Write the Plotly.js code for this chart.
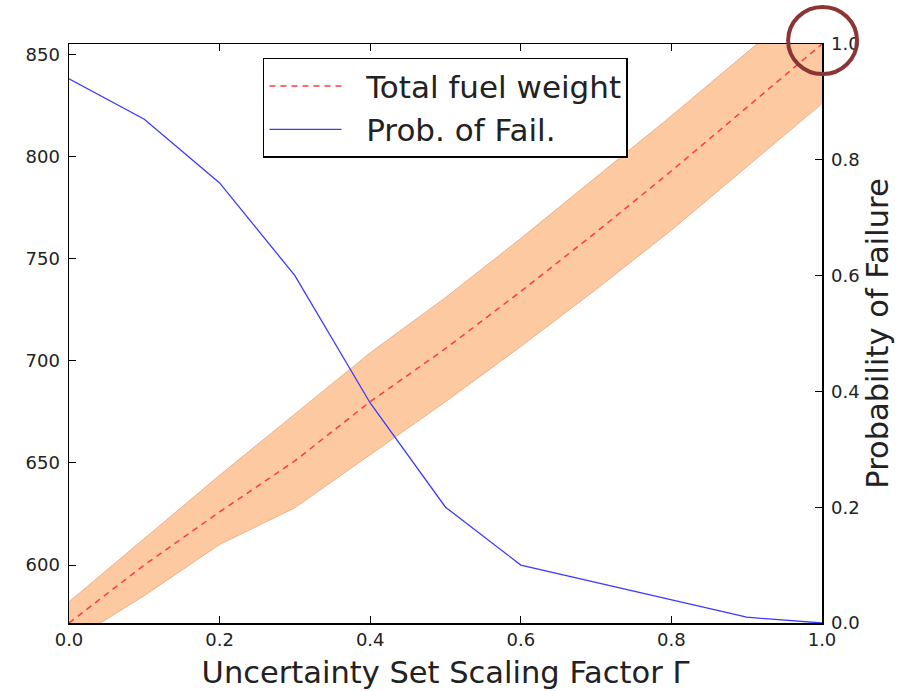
<!DOCTYPE html>
<html>
<head>
<meta charset="utf-8">
<script src="https://cdn.plot.ly/plotly-3.0.1.min.js"></script>
<style>html,body{margin:0;padding:0;background:#fff;}#chart{width:907px;height:691px;}</style>
</head>
<body>
<div id="chart"></div>
<script>
// Data
const gamma = [0.0, 0.1, 0.2, 0.3, 0.4, 0.5, 0.6, 0.7, 0.8, 0.9, 1.0];
const fuelWeight = [571.6, 600, 626, 651, 680, 706, 734, 763, 793, 824, 855.2];
const fuelLower = [562, 585, 610, 628, 654, 680, 707, 735, 764, 795, 826];
const fuelUpper = [582, 613, 644, 674, 704, 731, 760, 790, 820, 851, 882];
const probFail = [0.94, 0.87, 0.76, 0.60, 0.38, 0.20, 0.10, 0.07, 0.04, 0.01, 0.0];

const seriesNames = ['Total fuel weight', 'Prob. of Fail.'];
const xTicks = [0.0, 0.2, 0.4, 0.6, 0.8, 1.0];
const yTicks = [600, 650, 700, 750, 800, 850];
const y2Ticks = [0.0, 0.2, 0.4, 0.6, 0.8, 1.0];

const FONT = 'DejaVu Sans, sans-serif';
const PAD = '\u00a0\u00a0';

const traces = [
  {x: gamma, y: fuelLower, type: 'scatter', mode: 'lines', showlegend: false,
   line: {color: 'rgba(225,140,95,0.55)', width: 1}, hoverinfo: 'skip'},
  {x: gamma, y: fuelUpper, type: 'scatter', mode: 'lines', showlegend: false,
   fill: 'tonexty', fillcolor: '#fdc9a0',
   line: {color: 'rgba(225,140,95,0.55)', width: 1}, hoverinfo: 'skip'},
  {x: gamma, y: fuelWeight, type: 'scatter', mode: 'lines', name: PAD + seriesNames[0],
   legendgroup: 'a',
   line: {color: '#ff3a3a', width: 1.5, dash: '6px,5px'}},
  {x: gamma, y: probFail, type: 'scatter', mode: 'lines', name: PAD + seriesNames[1],
   legendgroup: 'b',
   yaxis: 'y2', line: {color: '#3a3aff', width: 1.3}}
];

const layout = {
  width: 907, height: 691,
  margin: {l: 69, r: 85, t: 44, b: 68},
  paper_bgcolor: '#fff', plot_bgcolor: '#fff',
  font: {family: FONT, color: '#222', size: 18},
  showlegend: true,
  legend: {
    x: 0.2576, y: 0.976, xanchor: 'left', yanchor: 'top',
    traceorder: 'normal',
    bgcolor: '#fff', bordercolor: '#000', borderwidth: 1.5,
    font: {family: FONT, size: 31, color: '#222'},
    itemwidth: 72,
    tracegroupgap: 0
  },
  xaxis: {
    range: [0, 1], tickvals: xTicks, ticktext: xTicks.map(v => v.toFixed(1)),
    ticks: 'inside', ticklen: 7, tickwidth: 1, tickcolor: '#000',
    showline: true, linecolor: '#000', linewidth: 1.5, mirror: 'ticks',
    showgrid: false, zeroline: false,
    tickfont: {family: FONT, size: 18, color: '#222'},
    title: {text: 'Uncertainty Set Scaling Factor Γ', font: {family: FONT, size: 30.5, color: '#222'}, standoff: 12}
  },
  yaxis: {
    range: [571.6, 855.2], tickvals: yTicks, ticktext: yTicks.map(String),
    ticks: 'inside', ticklen: 7, tickwidth: 1, tickcolor: '#000',
    showline: true, linecolor: '#000', linewidth: 1.5, mirror: false,
    showgrid: false, zeroline: false, ticklabelstandoff: 4,
    tickfont: {family: FONT, size: 18, color: '#222'}
  },
  yaxis2: {
    overlaying: 'y', side: 'right',
    range: [0, 1], tickvals: y2Ticks, ticktext: y2Ticks.map(v => v.toFixed(1)),
    ticks: 'inside', ticklen: 7, tickwidth: 1, tickcolor: '#000',
    showline: true, linecolor: '#000', linewidth: 1.5,
    showgrid: false, zeroline: false, ticklabelstandoff: 4,
    tickfont: {family: FONT, size: 18, color: '#222'},
    title: {text: 'Probability of Failure', font: {family: FONT, size: 30.5, color: '#222'}, standoff: 6}
  },
  shapes: [
    {type: 'circle', xref: 'paper', yref: 'paper',
     x0: 0.955, x1: 1.0465, y0: 0.948, y1: 1.064,
     line: {color: '#8b3535', width: 4}, layer: 'above'}
  ]
};

Plotly.newPlot('chart', traces, layout, {displayModeBar: false, staticPlot: true});
</script>
</body>
</html>
